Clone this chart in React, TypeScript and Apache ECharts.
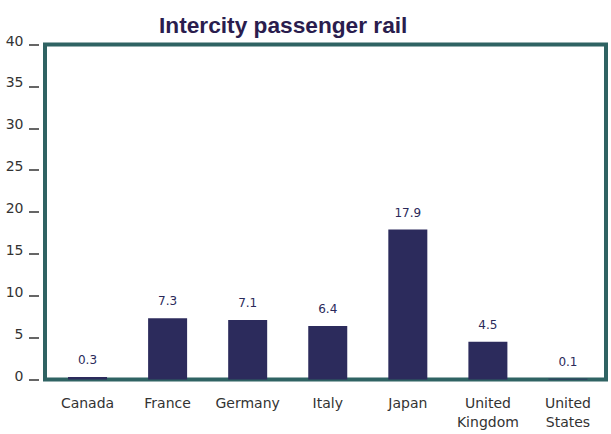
import React, { useEffect, useRef } from "react";
import * as echarts from "echarts";

const titleText = "Intercity passenger rail";
const categories = ["Canada", "France", "Germany", "Italy", "Japan", "United\nKingdom", "United\nStates"];
const values = [0.3, 7.3, 7.1, 6.4, 17.9, 4.5, 0.1];
const yMin = 0;
const yMax = 40;
const yInterval = 5;

export default function App() {
  const ref = useRef<HTMLDivElement>(null);
  useEffect(() => {
    if (!ref.current) return;
    const chart = echarts.init(ref.current, null, { renderer: "svg" });
    chart.setOption({
      animation: false,
      backgroundColor: "#ffffff",
      title: {
        text: titleText,
        left: 154,
        top: 8,
        textStyle: {
          fontFamily: "Liberation Sans, Arial, sans-serif",
          fontSize: 22.7,
          fontWeight: "bold",
          color: "#2a1d4e",
        },
      },
      graphic: [
        {
          type: "rect",
          z: 1,
          shape: { x: 45, y: 44.5, width: 561, height: 335 },
          style: { fill: "none", stroke: "#2f6363", lineWidth: 4 },
        },
      ],
      grid: { left: 47.5, right: 3, top: 44.5, bottom: 54.5 },
      xAxis: {
        type: "category",
        data: categories,
        axisLine: { show: false },
        axisTick: { show: false },
        axisLabel: {
          margin: 14,
          interval: 0,
          fontFamily: "DejaVu Sans, sans-serif",
          fontSize: 14,
          lineHeight: 19,
          color: "#333333",
        },
      },
      yAxis: {
        type: "value",
        min: yMin,
        max: yMax,
        interval: yInterval,
        offset: 8.5,
        axisLine: { show: false },
        axisTick: { show: true, length: 10, lineStyle: { color: "#333333", width: 1.5 } },
        splitLine: { show: false },
        axisLabel: {
          margin: 15.5,
          fontFamily: "DejaVu Sans, sans-serif",
          fontSize: 14,
          color: "#333333",
          lineHeight: 8,
          verticalAlign: "bottom",
        },
      },
      series: [
        {
          type: "bar",
          data: values,
          barWidth: 39,
          z: 2,
          itemStyle: { color: "#2c2b5c" },
          label: {
            show: true,
            position: "top",
            distance: 11,
            fontFamily: "DejaVu Sans, sans-serif",
            fontSize: 12,
            color: "#2a2a5a",
            formatter: (p: any) => String(p.value),
          },
        },
      ],
    });
    return () => chart.dispose();
  }, []);
  return <div ref={ref} style={{ width: 611, height: 434, position: "absolute", left: 0, top: 0 }} />;
}
